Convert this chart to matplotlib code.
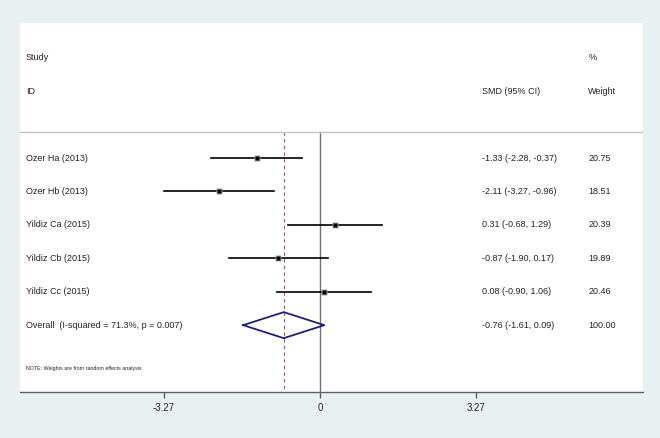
import matplotlib
matplotlib.use("Agg")
import matplotlib.pyplot as plt
from matplotlib.transforms import blended_transform_factory

plt.rcParams['font.family'] = ['Liberation Sans', 'DejaVu Sans']

studies = ["Ozer Ha (2013)", "Ozer Hb (2013)", "Yildiz Ca (2015)",
           "Yildiz Cb (2015)", "Yildiz Cc (2015)"]
smd = [-1.33, -2.11, 0.31, -0.87, 0.08]
lo = [-2.28, -3.27, -0.68, -1.90, -0.90]
hi = [-0.37, -0.96, 1.29, 0.17, 1.06]
weights = [20.75, 18.51, 20.39, 19.89, 20.46]

overall_label = "Overall  (I-squared = 71.3%, p = 0.007)"
overall_es = -0.76
overall_lo = -1.61
overall_hi = 0.09
overall_w = 100.00

xticks = [-3.27, 0, 3.27]
xticklabels = ["-3.27", "0", "3.27"]

bg = '#e8f0f2'
fig = plt.figure(figsize=(6.6, 4.38), dpi=100, facecolor=bg)
ax = fig.add_axes([20/660, 46/438, 623/660, 369/438])
ax.set_facecolor('white')

ax.set_xlim(-6.288, 6.770)
ax.set_ylim(7.0, -4.04)

fs = 6.5
tc = '#222222'
tr = blended_transform_factory(ax.transAxes, ax.transData)

# headers
ax.text(0.0096, -3.02, "Study", transform=tr, fontsize=fs, va='center', ha='left', color=tc)
ax.text(0.0096, -1.98, "ID", transform=tr, fontsize=fs, va='center', ha='left', color=tc)
ax.text(0.7416, -1.98, "SMD (95% CI)", transform=tr, fontsize=fs, va='center', ha='left', color=tc)
ax.text(0.912, -3.02, "%", transform=tr, fontsize=fs, va='center', ha='left', color=tc)
ax.text(0.912, -1.98, "Weight", transform=tr, fontsize=fs, va='center', ha='left', color=tc)

# separator
ax.axhline(-0.78, color='#c4c4c4', lw=1.0)

# vertical lines
ax.plot([0, 0], [-0.78, 7.0], color='#707070', lw=1.0, zorder=1)
ax.plot([overall_es, overall_es], [-0.78, 7.0], color='#a05060', lw=0.8,
        ls=(0, (3, 3)), zorder=1)

for i, (name, e, l, h, w) in enumerate(zip(studies, smd, lo, hi, weights)):
    ax.plot([l, h], [i, i], color='black', lw=1.2, zorder=3)
    ax.plot([e], [i], marker='s', ms=4.0, color='#a0a0a0', mec='none', zorder=4)
    ax.plot([e], [i], marker='s', ms=2.4, color='black', mec='none', zorder=5)
    ax.text(0.0096, i, name, transform=tr, fontsize=fs, va='center', ha='left', color=tc)
    ax.text(0.7416, i, f"{e:.2f} ({l:.2f}, {h:.2f})", transform=tr, fontsize=fs,
            va='center', ha='left', color=tc)
    ax.text(0.912, i, f"{w:.2f}", transform=tr, fontsize=fs, va='center', ha='left', color=tc)

io = len(studies)
dh = 0.39
ax.plot([overall_lo, overall_es, overall_hi, overall_es, overall_lo],
        [io, io - dh, io, io + dh, io], color='#1f1f78', lw=1.3, zorder=4)
ax.text(0.0096, io, overall_label, transform=tr, fontsize=fs, va='center', ha='left', color=tc)
ax.text(0.7416, io, f"{overall_es:.2f} ({overall_lo:.2f}, {overall_hi:.2f})",
        transform=tr, fontsize=fs, va='center', ha='left', color=tc)
ax.text(0.912, io, f"{overall_w:.2f}", transform=tr, fontsize=fs, va='center', ha='left', color=tc)

ax.text(0.0096, 6.29, "NOTE: Weights are from random effects analysis", transform=tr,
        fontsize=3.8, va='center', ha='left', color=tc)

for s in ['top', 'left', 'right']:
    ax.spines[s].set_visible(False)
ax.spines['bottom'].set_color('#606060')
ax.spines['bottom'].set_linewidth(1.0)
ax.set_yticks([])
ax.set_xticks(xticks)
ax.set_xticklabels(xticklabels, fontsize=7, color=tc)
ax.tick_params(axis='x', direction='out', length=4, width=1, color='#606060', pad=4)

fig.savefig("out.png", dpi=100, facecolor=bg)
